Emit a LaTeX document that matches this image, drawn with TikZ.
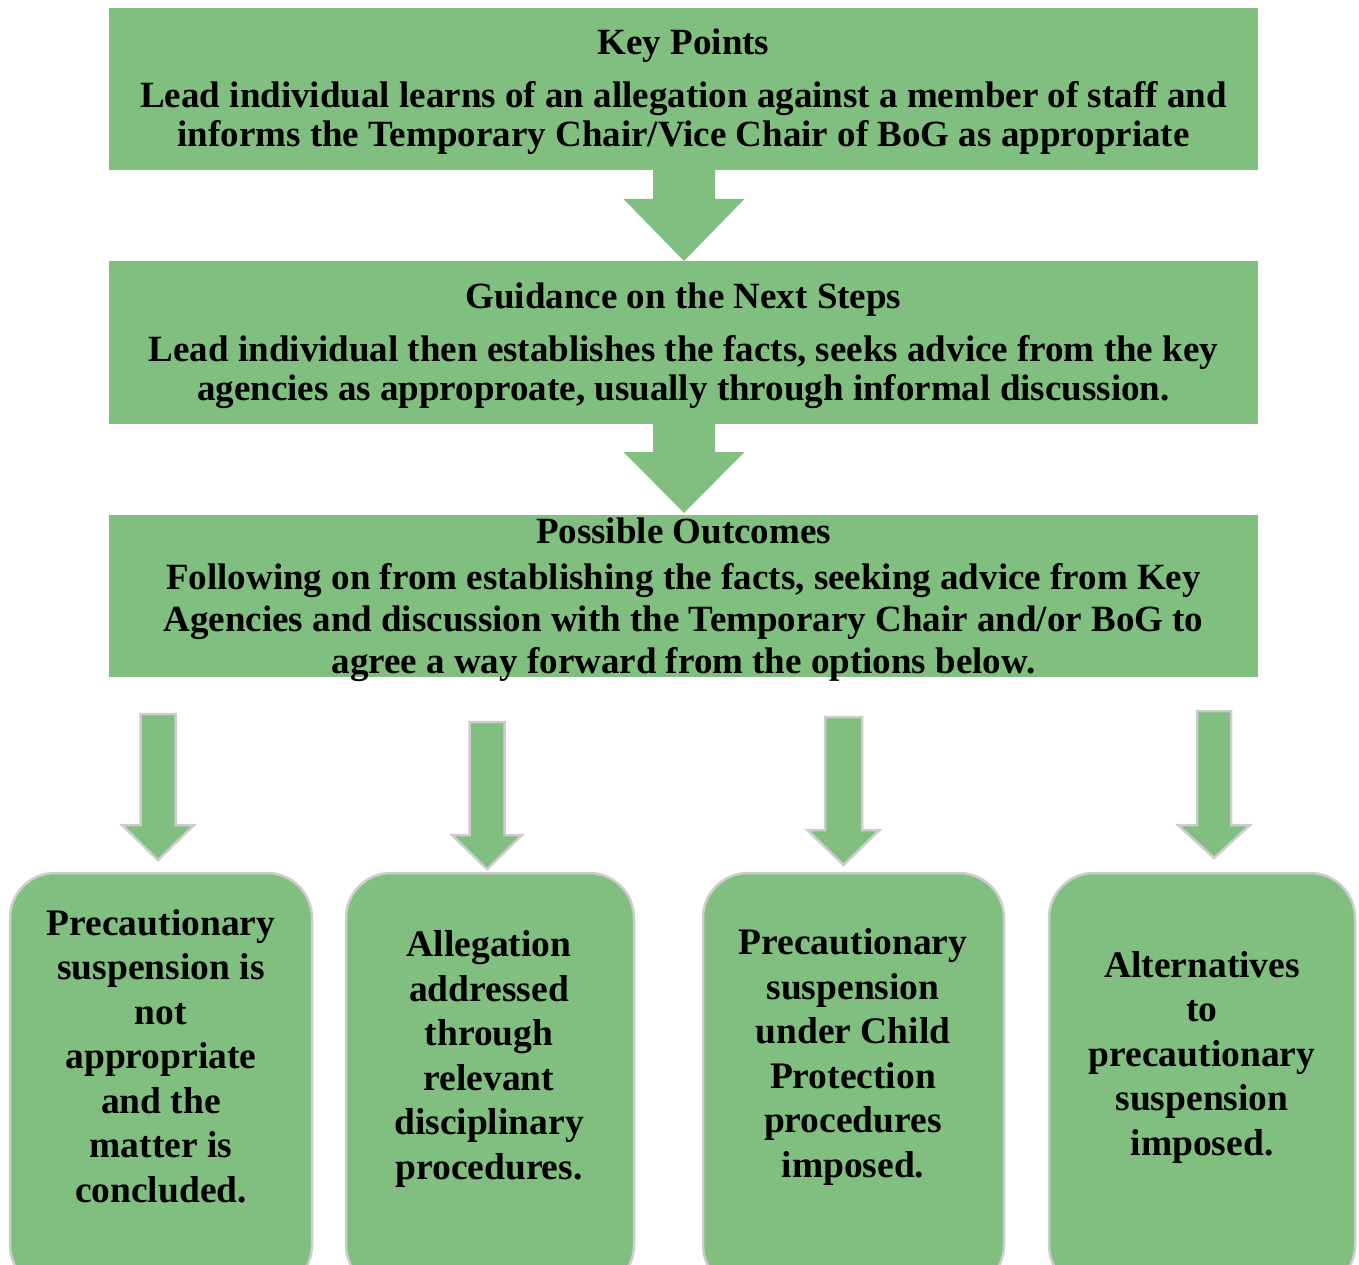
\documentclass[tikz,border=0pt]{standalone}
\usepackage{fontspec}
\setmainfont{Liberation Serif}
\usetikzlibrary{calc}
\definecolor{boxgreen}{RGB}{128,191,128}
\definecolor{edgegray}{RGB}{205,205,205}
\newcommand{\dnarrow}[7]{\path[#1] ({#2-#4},#3) -- ({#2+#4},#3) -- ({#2+#4},#5) -- ({#2+#6},#5) -- (#2,#7) -- ({#2-#6},#5) -- ({#2-#4},#5) -- cycle;}
\begin{document}
\begin{tikzpicture}[x=1pt,y=-1pt,
  topbox/.style={rectangle,fill=boxgreen,minimum width=1149pt,minimum height=162pt,inner sep=0pt},
  toptext/.style={align=center,inner sep=0pt,font=\bfseries\fontsize{37}{39}\selectfont},
  outbox/.style={rectangle,rounded corners=45pt,fill=boxgreen,draw=edgegray,line width=2.5pt,minimum height=417pt,inner sep=0pt},
  outtext/.style={align=center,font=\bfseries\fontsize{37.5}{44.5}\selectfont,inner sep=0pt},
  bigarrow/.style={fill=boxgreen},
  smallarrow/.style={fill=boxgreen,draw=edgegray,line width=2.5pt,line join=miter}
]
\useasboundingbox (0,0) rectangle (1359,1265);

\node[topbox] (kp) at (683.5,89) {};
\node[topbox] (gn) at (683.5,342.5) {};
\node[topbox] (po) at (683.5,595.5) {};
\node[toptext] (kpt) at (683.5,92) {Key Points\\[14pt]Lead individual learns of an allegation against a member of staff and\\informs the Temporary Chair/Vice Chair of BoG as appropriate};
\node[toptext] (gnt) at (683.5,345.5) {Guidance on the Next Steps\\[14pt]Lead individual then establishes the facts, seeks advice from the key\\agencies as approproate, usually through informal discussion.};
\node[toptext,font=\bfseries\fontsize{37}{42}\selectfont] (pot) at (683.5,599.5) {Possible Outcomes\\[4pt]Following on from establishing the facts, seeking advice from Key\\Agencies and discussion with the Temporary Chair and/or BoG to\\agree a way forward from the options below.};

\dnarrow{bigarrow}{684}{168}{31}{199}{60.5}{261}
\dnarrow{bigarrow}{684}{421}{31}{452}{60.5}{513}

\node[outbox,minimum width=302pt] (o1) at (161,1081.5) {};
\node[outbox,minimum width=288pt] (o2) at (490,1081.5) {};
\node[outbox,minimum width=301pt] (o3) at (853.5,1081.5) {};
\node[outbox,minimum width=306pt] (o4) at (1202,1081.5) {};

\node[outtext] (t1) at (161,1056) {Precautionary\\suspension is\\not\\appropriate\\and the\\matter is\\concluded.};
\node[outtext] (t2) at (489,1059) {Allegation\\addressed\\through\\relevant\\disciplinary\\procedures.};
\node[outtext] (t3) at (853,1057) {Precautionary\\suspension\\under Child\\Protection\\procedures\\imposed.};
\node[outtext] (t4) at (1202,1057) {Alternatives\\to\\precautionary\\suspension\\imposed.};

\dnarrow{smallarrow}{158}{714}{17.5}{825}{36}{860}
\dnarrow{smallarrow}{487}{722}{17.5}{835}{35}{869}
\dnarrow{smallarrow}{843.5}{717}{18.5}{830}{36}{865}
\dnarrow{smallarrow}{1214}{711}{17}{825}{36}{858}
\end{tikzpicture}
\end{document}
